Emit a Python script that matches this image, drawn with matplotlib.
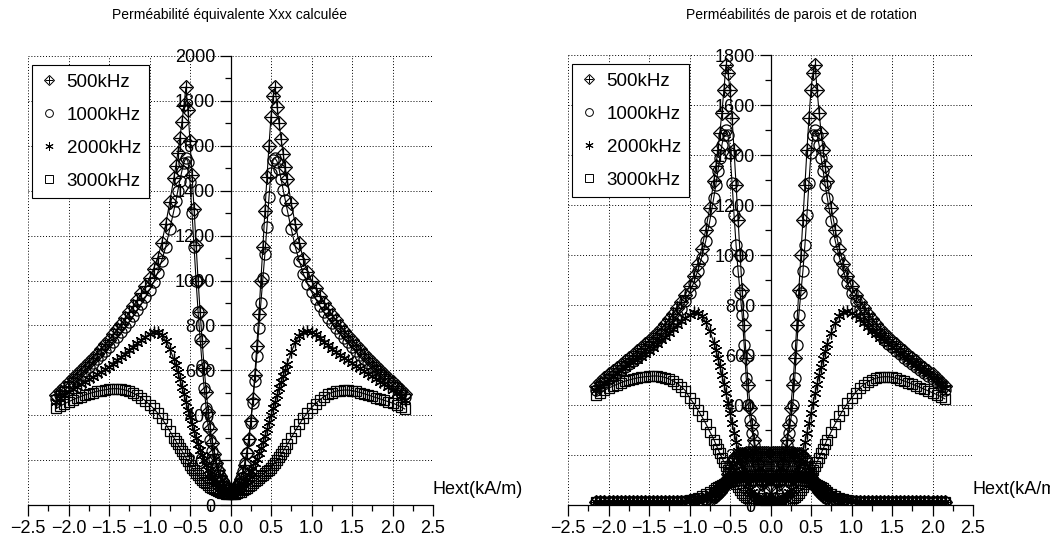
import matplotlib
matplotlib.use('Agg')
import matplotlib.pyplot as plt
from matplotlib.lines import Line2D
from matplotlib.ticker import MultipleLocator
from matplotlib import font_manager

plt.rcParams['font.family'] = ['Liberation Sans', 'DejaVu Sans']

# ---- field grid (kA/m) ----
H = [-2.15, -2.1, -2.05, -2.0, -1.95, -1.9, -1.85, -1.8, -1.75, -1.7, -1.65, -1.6, -1.55, -1.5, -1.45,
     -1.4, -1.35, -1.3, -1.25, -1.2, -1.15, -1.1, -1.05, -1.0, -0.95, -0.9, -0.85, -0.8, -0.75,
     -0.7, -0.675, -0.65, -0.625, -0.6, -0.575, -0.55, -0.525, -0.5, -0.475, -0.45, -0.425, -0.4, -0.375,
     -0.35, -0.325, -0.3, -0.275, -0.25, -0.225, -0.2, -0.175, -0.15, -0.125, -0.1, -0.075, -0.05, -0.025,
     0.0,
     0.025, 0.05, 0.075, 0.1, 0.125, 0.15, 0.175, 0.2, 0.225, 0.25, 0.275, 0.3, 0.325, 0.35, 0.375,
     0.4, 0.425, 0.45, 0.475, 0.5, 0.525, 0.55, 0.575, 0.6, 0.625, 0.65, 0.675, 0.7,
     0.75, 0.8, 0.85, 0.9, 0.95, 1.0, 1.05, 1.1, 1.15, 1.2, 1.25, 1.3, 1.35, 1.4, 1.45, 1.5,
     1.55, 1.6, 1.65, 1.7, 1.75, 1.8, 1.85, 1.9, 1.95, 2.0, 2.05, 2.1, 2.15]

labels = ['500kHz', '1000kHz', '2000kHz', '3000kHz']
title_left = 'Perméabilité équivalente Xxx calculée'
title_right = 'Perméabilités de parois et de rotation'
xlabel = 'Hext(kA/m)'

# ---- left panel: equivalent permeability ----
eq_500 = [488, 507, 527, 546, 564, 582, 600, 618, 636, 655, 674, 694, 715, 737, 760,
          784, 808, 833, 859, 886, 914, 944, 976, 1012, 1052, 1100, 1165, 1250, 1350,
          1455, 1510, 1570, 1635, 1705, 1780, 1862, 1760, 1620, 1470, 1320, 1160, 1000, 860,
          730, 610, 505, 415, 340, 278, 228, 188, 155, 128, 106, 88, 74, 64,
          58,
          61, 68, 80, 95, 115, 142, 180, 230, 295, 375, 470, 580, 710, 850,
          1000, 1150, 1310, 1460, 1600, 1730, 1820, 1860, 1775, 1700, 1630, 1565, 1505, 1450,
          1345, 1250, 1165, 1095, 1040, 1000, 965, 932, 902, 874, 848, 823, 799, 776, 754,
          733, 713, 693, 674, 655, 637, 619, 601, 584, 567, 550, 532, 513, 494]
eq_1000 = [470, 490, 509, 528, 546, 563, 580, 597, 614, 631, 649, 667, 686, 706, 726,
           747, 769, 792, 816, 841, 867, 895, 925, 957, 992, 1035, 1088, 1150, 1228,
           1310, 1355, 1400, 1445, 1488, 1525, 1545, 1530, 1440, 1300, 1150, 1000, 860, 740,
           625, 520, 430, 350, 290, 240, 205, 178, 152, 130, 112, 96, 82, 70,
           62,
           64, 72, 84, 100, 122, 150, 185, 232, 290, 365, 455, 554, 665, 790,
           900, 1010, 1120, 1240, 1370, 1480, 1535, 1545, 1530, 1495, 1450, 1405, 1360, 1315,
           1230, 1150, 1085, 1030, 985, 950, 918, 888, 860, 834, 810, 787, 765, 744, 724,
           705, 686, 668, 650, 633, 616, 600, 584, 568, 552, 536, 519, 501, 482]
eq_2000 = [460, 475, 490, 505, 516, 527, 538, 549, 560, 571, 582, 593, 604, 615, 629,
           644, 659, 674, 690, 705, 720, 735, 750, 762, 771, 770, 757, 732, 697,
           650, 622, 592, 560, 527, 493, 459, 425, 392, 360, 329, 300, 272, 246,
           222, 199, 178, 158, 140, 124, 110, 97, 86, 76, 67, 60, 55, 52,
           50,
           52, 56, 62, 70, 80, 92, 105, 118, 133, 150, 167, 186, 207, 230,
           254, 280, 308, 338, 368, 400, 430, 460, 490, 520, 548, 576, 603, 630,
           680, 725, 755, 772, 775, 770, 760, 745, 728, 712, 697, 683, 670, 657, 645,
           633, 621, 609, 597, 585, 573, 561, 549, 537, 525, 513, 499, 484, 468]
eq_3000 = [430, 441, 451, 460, 468, 476, 483, 490, 496, 501, 506, 510, 513, 516, 518,
           518, 516, 512, 506, 498, 489, 478, 464, 447, 430, 410, 386, 360, 330,
           300, 285, 270, 255, 241, 226, 210, 195, 180, 167, 155, 143, 132, 122,
           113, 104, 96, 89, 82, 76, 71, 66, 62, 58, 55, 52, 50, 49,
           48,
           49, 51, 53, 56, 60, 65, 70, 76, 83, 90, 97, 105, 112, 120,
           127, 135, 142, 150, 158, 167, 177, 188, 200, 212, 226, 240, 255, 270,
           300, 330, 360, 388, 412, 433, 452, 468, 482, 493, 501, 507, 510, 512, 512,
           510, 506, 501, 496, 490, 484, 478, 472, 466, 460, 454, 447, 438, 428]

# ---- right panel: rotation permeability ----
rot_500 = [478, 494, 509, 523, 536, 549, 562, 575, 588, 601, 615, 629, 643, 658, 673,
           689, 706, 724, 743, 764, 787, 813, 842, 875, 915, 965, 1025, 1100, 1190,
           1295, 1355, 1420, 1490, 1570, 1660, 1760, 1730, 1660, 1550, 1420, 1280, 1140, 1000,
           860, 720, 590, 480, 390, 320, 260, 210, 165, 125, 85, 50, 25, 12,
           8,
           12, 25, 50, 85, 125, 165, 210, 260, 320, 390, 480, 590, 720, 860,
           1000, 1140, 1280, 1420, 1550, 1660, 1730, 1760, 1660, 1570, 1490, 1420, 1355, 1295,
           1190, 1100, 1025, 965, 915, 875, 842, 813, 787, 764, 743, 724, 706, 689, 673,
           658, 643, 629, 615, 601, 588, 575, 562, 549, 536, 523, 509, 494, 478]
rot_1000 = [462, 477, 491, 504, 516, 528, 540, 552, 564, 577, 590, 603, 617, 631, 646,
            662, 679, 697, 716, 737, 760, 786, 815, 848, 888, 935, 990, 1055, 1135,
            1230, 1280, 1335, 1390, 1440, 1480, 1500, 1480, 1410, 1290, 1160, 1040, 935, 850,
            760, 640, 510, 400, 340, 290, 240, 195, 160, 130, 95, 55, 28, 12,
            8,
            12, 28, 55, 95, 130, 160, 195, 240, 290, 340, 400, 510, 640, 760,
            850, 935, 1040, 1160, 1290, 1410, 1480, 1500, 1480, 1440, 1390, 1335, 1280, 1230,
            1135, 1055, 990, 935, 888, 848, 815, 786, 760, 737, 716, 697, 679, 662, 646,
            631, 617, 603, 590, 577, 564, 552, 540, 528, 516, 504, 491, 477, 462]
rot_2000 = [460, 475, 490, 505, 516, 527, 538, 549, 560, 571, 582, 593, 604, 615, 629,
            644, 659, 674, 690, 705, 720, 735, 750, 762, 771, 770, 757, 732, 697,
            650, 620, 588, 555, 520, 484, 447, 408, 368, 328, 290, 253, 218, 185,
            155, 128, 104, 83, 66, 51, 39, 30, 23, 17, 13, 10, 8, 7,
            6,
            7, 8, 10, 13, 17, 23, 30, 39, 51, 66, 83, 104, 128, 155,
            185, 218, 253, 290, 328, 368, 408, 447, 484, 520, 553, 585, 615, 645,
            690, 730, 758, 772, 775, 770, 760, 745, 728, 712, 697, 683, 670, 657, 645,
            633, 621, 609, 597, 585, 573, 561, 549, 537, 525, 513, 499, 484, 468]
rot_3000 = [440, 450, 459, 467, 475, 482, 489, 495, 500, 504, 508, 511, 513, 515, 516,
            516, 514, 510, 504, 496, 486, 473, 457, 430, 407, 382, 355, 326, 294,
            262, 243, 225, 207, 190, 172, 155, 140, 125, 110, 96, 83, 71, 60,
            50, 41, 34, 27, 22, 17, 14, 11, 9, 8, 7, 6, 6, 5,
            5,
            5, 6, 6, 7, 8, 9, 11, 14, 17, 22, 27, 34, 41, 50,
            60, 71, 83, 96, 110, 125, 140, 155, 172, 190, 207, 225, 243, 262,
            294, 326, 355, 382, 407, 428, 450, 468, 482, 493, 501, 507, 511, 513, 513,
            511, 507, 502, 496, 490, 484, 477, 470, 463, 456, 449, 442, 434, 425]

# ---- right panel: wall permeability ----
wall_500 = [14, 14, 14, 14, 14, 14, 14, 14, 14, 14, 14, 14, 14, 14, 14,
            14, 14, 14, 14, 14, 14, 14, 14, 14, 15, 16, 18, 21, 26,
            33, 38, 45, 54, 66, 82, 102, 126, 150, 172, 188, 198, 203, 205,
            206, 206, 207, 207, 207, 207, 207, 207, 207, 207, 207, 207, 207, 207,
            207,
            207, 207, 207, 207, 207, 207, 207, 207, 207, 207, 207, 206, 206, 205,
            203, 198, 188, 172, 150, 126, 102, 82, 66, 54, 45, 38, 33, 29,
            24, 20, 18, 16, 15, 14, 14, 14, 14, 14, 14, 14, 14, 14, 14,
            14, 14, 14, 14, 14, 14, 14, 14, 14, 14, 14, 14, 14, 14]
wall_1000 = [13, 13, 13, 13, 13, 13, 13, 13, 13, 13, 13, 13, 13, 13, 13,
             13, 13, 13, 13, 13, 13, 13, 14, 15, 16, 18, 21, 25, 31,
             39, 44, 50, 57, 66, 76, 88, 101, 114, 126, 136, 143, 148, 151,
             153, 154, 155, 155, 155, 155, 155, 155, 155, 155, 155, 155, 155, 155,
             155,
             155, 155, 155, 155, 155, 155, 155, 155, 155, 155, 155, 155, 154, 153,
             151, 148, 143, 136, 126, 114, 101, 88, 76, 66, 57, 50, 44, 39,
             31, 25, 21, 18, 16, 15, 14, 13, 13, 13, 13, 13, 13, 13, 13,
             13, 13, 13, 13, 13, 13, 13, 13, 13, 13, 13, 13, 13, 13]
wall_2000 = [12, 12, 12, 12, 12, 12, 12, 12, 12, 12, 12, 12, 12, 12, 12,
             12, 12, 12, 12, 12, 13, 14, 15, 17, 20, 24, 30, 37, 46,
             56, 61, 67, 73, 79, 85, 91, 96, 101, 105, 108, 111, 113, 114,
             115, 116, 116, 116, 116, 116, 116, 116, 116, 116, 116, 116, 116, 116,
             116,
             116, 116, 116, 116, 116, 116, 116, 116, 116, 116, 116, 116, 116, 115,
             114, 113, 111, 108, 105, 101, 96, 91, 85, 79, 73, 67, 61, 56,
             46, 37, 30, 24, 20, 17, 15, 14, 13, 12, 12, 12, 12, 12, 12,
             12, 12, 12, 12, 12, 12, 12, 12, 12, 12, 12, 12, 12, 12]
wall_3000 = [12, 12, 12, 12, 12, 12, 12, 12, 12, 12, 12, 12, 12, 12, 12,
             12, 12, 12, 13, 13, 14, 15, 17, 20, 24, 29, 36, 44, 53,
             62, 67, 72, 76, 80, 84, 88, 91, 94, 96, 98, 99, 100, 101,
             101, 102, 102, 102, 102, 102, 102, 102, 102, 102, 102, 102, 102, 102,
             102,
             102, 102, 102, 102, 102, 102, 102, 102, 102, 102, 102, 102, 101, 101,
             100, 99, 98, 96, 94, 91, 88, 84, 80, 76, 72, 67, 62, 53,
             44, 36, 29, 24, 20, 17, 15, 14, 13, 13, 12, 12, 12, 12, 12,
             12, 12, 12, 12, 12, 12, 12, 12, 12, 12, 12, 12, 12, 12]

for arr in [eq_500, eq_1000, eq_2000, eq_3000, rot_500, rot_1000, rot_2000, rot_3000,
            wall_500, wall_1000, wall_2000, wall_3000]:
    assert len(arr) == len(H), len(arr)

ASTER = (6, 2, 0)
MARKERS = ['D', 'o', ASTER, 's']
SIZES = [7, 8, 8.5, 7.5]
EC = 'k'
MEW = 0.9


def draw_series(ax, x, y, k):
    ax.plot(x, y, color='k', lw=0.8, marker=MARKERS[k], ms=SIZES[k],
            mfc='none', mec=EC, mew=MEW)
    if k == 0:
        ax.plot(x, y, ls='none', marker='+', ms=8.5, mec='k', mew=0.9)


def legend_handles():
    hs = []
    for k in range(4):
        h = Line2D([], [], ls='none', marker=MARKERS[k], ms=SIZES[k] * 0.7,
                   mfc='none', mec='k', mew=0.7)
        if k == 0:
            h2 = Line2D([], [], ls='none', marker='+', ms=8.5 * 0.7, mec='k', mew=0.7)
            h = (h, h2)
        hs.append(h)
    return hs


def style_axes(ax, ymax):
    ax.set_xlim(-2.5, 2.5)
    ax.set_ylim(0, ymax)
    for s in ['top', 'right']:
        ax.spines[s].set_visible(False)
    ax.spines['left'].set_position(('data', 0))
    ax.spines['bottom'].set_position(('data', 0))
    for s in ['left', 'bottom']:
        ax.spines[s].set_linewidth(0.9)
        ax.spines[s].set_zorder(5)
    ax.xaxis.set_major_locator(MultipleLocator(0.5))
    ax.xaxis.set_minor_locator(MultipleLocator(0.25))
    ax.yaxis.set_major_locator(MultipleLocator(200))
    ax.yaxis.set_minor_locator(MultipleLocator(100))
    ax.grid(True, which='major', linestyle=(0, (1, 2)), color='k', linewidth=0.7)
    ax.tick_params(which='major', direction='out', length=8, width=0.9, labelsize=13, pad=3)
    ax.tick_params(which='minor', direction='out', length=4, width=0.9)
    ax.set_axisbelow(False)


def add_legend(ax):
    leg = ax.legend(legend_handles(), labels, loc='upper left',
                    bbox_to_anchor=(4 / 405, 1 - 9 / 449),
                    borderaxespad=0, fancybox=False, framealpha=1, edgecolor='k',
                    fontsize=13.5, handlelength=0.9, handletextpad=0.5, labelspacing=0.85,
                    borderpad=0.45)
    leg.get_frame().set_linewidth(0.8)
    leg.set_zorder(10)


# narrower face for the titles if available
names = {f.name for f in font_manager.fontManager.ttflist}
title_family = ['Liberation Sans Narrow', 'Liberation Sans'] if 'Liberation Sans Narrow' in names \
    else ['Liberation Sans']
title_size = 12 if 'Liberation Sans Narrow' in names else 10

fig = plt.figure(figsize=(10.5, 5.39), dpi=100)
ax1 = fig.add_axes([28 / 1050, 34 / 539, 405 / 1050, 449 / 539])
ax2 = fig.add_axes([568 / 1050, 34 / 539, 405 / 1050, 450 / 539])

for k, y in enumerate([eq_500, eq_1000, eq_2000, eq_3000]):
    draw_series(ax1, H, y, k)
style_axes(ax1, 2000)
add_legend(ax1)
ax1.text(2.5, 67, xlabel, ha='left', va='center', fontsize=13, clip_on=False)

for k, y in enumerate([rot_500, rot_1000, rot_2000, rot_3000]):
    draw_series(ax2, H, y, k)
for k, y in enumerate([wall_500, wall_1000, wall_2000, wall_3000]):
    draw_series(ax2, H, y, k)
style_axes(ax2, 1800)
add_legend(ax2)
ax2.text(2.5, 60, xlabel, ha='left', va='center', fontsize=13, clip_on=False)

fig.text(230 / 1050, 1 - 15 / 539, title_left, ha='center', va='center',
         fontsize=title_size, family=title_family)
fig.text(801 / 1050, 1 - 15 / 539, title_right, ha='center', va='center',
         fontsize=title_size, family=title_family)

fig.savefig('out.png', dpi=100)
